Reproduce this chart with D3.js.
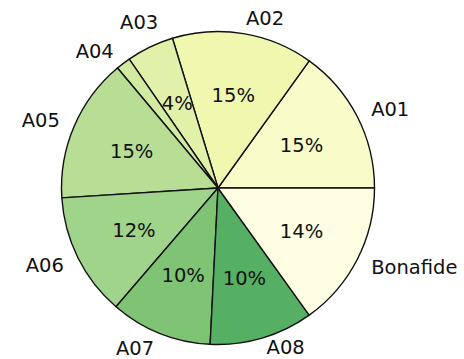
<!DOCTYPE html>
<html>
<head>
<meta charset="utf-8">
<script src="https://cdn.jsdelivr.net/npm/d3@7"></script>
<style>
  html, body { margin: 0; padding: 0; background: #fff; }
  svg { display: block; }
  text { font-family: "DejaVu Sans", sans-serif; fill: #111; }
</style>
</head>
<body>
<svg id="chart" width="464" height="359"></svg>
<script>
// Data (counterclockwise from the east, as drawn)
const categories = ["A01", "A02", "A03", "A04", "A05", "A06", "A07", "A08", "Bonafide"];
const values     = [15.1, 14.6, 4.9, 1.5, 14.9, 12.7, 10.5, 10.7, 15.1];
const pctLabels  = ["15%", "15%", "4%", "", "15%", "12%", "10%", "10%", "14%"];
const colors     = ["#f8fcc8", "#f0f8b0", "#e1f1a9", "#d2eaa1", "#b8de96", "#9fd48a", "#7ec474", "#56b063", "#fefee3"];

// small layout nudges for outer labels (pixels)
const labelNudge = { "A03": [15, -11], "A08": [0, -6] };

const svg = d3.select("#chart");
const cx = 218, cy = 188, r = 156.5;
const g = svg.append("g").attr("transform", `translate(${cx},${cy})`);

const data = categories.map((c, i) => ({ cat: c, value: values[i], pct: pctLabels[i], color: colors[i] }));

const pie = d3.pie()
  .sort(null)
  .value(d => d.value)
  .startAngle(Math.PI / 2)
  .endAngle(Math.PI / 2 - 2 * Math.PI);

const arcs = pie(data);
const arc = d3.arc().innerRadius(0).outerRadius(r);
const labelArc = d3.arc().innerRadius(r * 1.1).outerRadius(r * 1.1);
const pctArc = d3.arc().innerRadius(r * 0.6).outerRadius(r * 0.6);

g.selectAll("path.slice")
  .data(arcs)
  .enter().append("path")
  .attr("class", "slice")
  .attr("d", arc)
  .attr("fill", d => d.data.color)
  .attr("stroke", "#111")
  .attr("stroke-width", 1.4)
  .attr("stroke-linejoin", "round");

const nud = d => labelNudge[d.data.cat] || [0, 0];

g.selectAll("text.cat")
  .data(arcs)
  .enter().append("text")
  .attr("class", "cat")
  .attr("x", d => labelArc.centroid(d)[0] + nud(d)[0])
  .attr("y", d => labelArc.centroid(d)[1] + nud(d)[1])
  .attr("dy", "0.36em")
  .attr("text-anchor", d => labelArc.centroid(d)[0] > 0 ? "start" : "end")
  .attr("font-size", 19.5)
  .text(d => d.data.cat);

g.selectAll("text.pct")
  .data(arcs.filter(d => d.data.pct !== ""))
  .enter().append("text")
  .attr("class", "pct")
  .attr("x", d => pctArc.centroid(d)[0])
  .attr("y", d => pctArc.centroid(d)[1])
  .attr("dy", "0.36em")
  .attr("text-anchor", "middle")
  .attr("font-size", 19.5)
  .text(d => d.data.pct);
</script>
</body>
</html>
